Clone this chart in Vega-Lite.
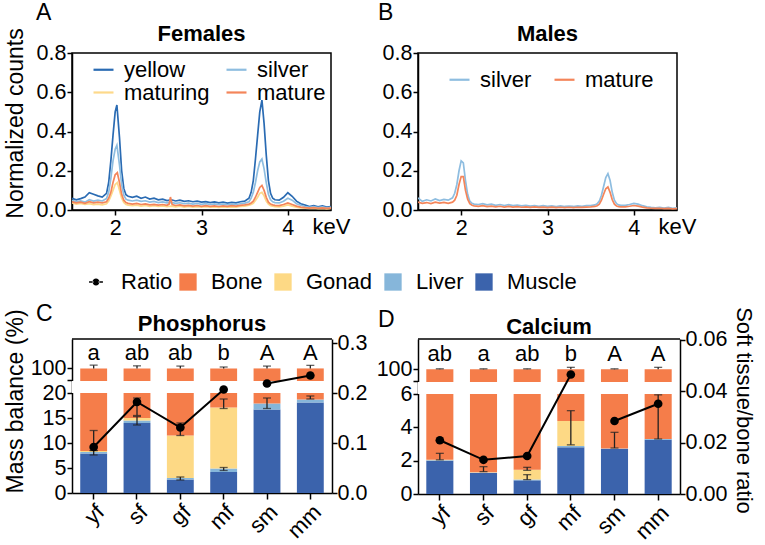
{
  "$schema": "https://vega.github.io/schema/vega-lite/v6.json",
  "background": "white",
  "padding": {"left": 3, "top": 2, "right": 1, "bottom": 3},
  "config": {
    "font": "Liberation Sans",
    "view": {"stroke": null},
    "axis": {"domainColor": "black", "domainWidth": 1.5, "tickColor": "black", "tickWidth": 1.5, "tickSize": 5, "labelColor": "black", "labelFontSize": 21.5, "labelPadding": 1, "titleColor": "black", "titleFontSize": 23, "titleFontWeight": "normal", "grid": false},
    "legend": {"labelFontSize": 22, "labelColor": "black"},
    "title": {"color": "black"}
  },
  "datasets": {
    "specF": [
      {"series":"yellow","keV":1.5,"counts":0.060},{"series":"yellow","keV":1.55,"counts":0.052},{"series":"yellow","keV":1.6,"counts":0.058},{"series":"yellow","keV":1.65,"counts":0.066},{"series":"yellow","keV":1.7,"counts":0.088},{"series":"yellow","keV":1.75,"counts":0.080},{"series":"yellow","keV":1.8,"counts":0.072},{"series":"yellow","keV":1.85,"counts":0.066},{"series":"yellow","keV":1.9,"counts":0.085},
      {"series":"yellow","keV":1.925,"counts":0.14},{"series":"yellow","keV":1.95,"counts":0.25},{"series":"yellow","keV":1.975,"counts":0.38},{"series":"yellow","keV":2.0,"counts":0.50},{"series":"yellow","keV":2.02,"counts":0.535},{"series":"yellow","keV":2.05,"counts":0.37},{"series":"yellow","keV":2.075,"counts":0.20},{"series":"yellow","keV":2.1,"counts":0.11},{"series":"yellow","keV":2.125,"counts":0.078},{"series":"yellow","keV":2.15,"counts":0.070},
      {"series":"yellow","keV":2.2,"counts":0.064},{"series":"yellow","keV":2.25,"counts":0.070},{"series":"yellow","keV":2.3,"counts":0.060},{"series":"yellow","keV":2.35,"counts":0.066},{"series":"yellow","keV":2.4,"counts":0.056},{"series":"yellow","keV":2.45,"counts":0.060},{"series":"yellow","keV":2.5,"counts":0.052},{"series":"yellow","keV":2.55,"counts":0.055},{"series":"yellow","keV":2.6,"counts":0.048},{"series":"yellow","keV":2.65,"counts":0.052},{"series":"yellow","keV":2.7,"counts":0.046},{"series":"yellow","keV":2.75,"counts":0.050},{"series":"yellow","keV":2.8,"counts":0.044},{"series":"yellow","keV":2.85,"counts":0.047},{"series":"yellow","keV":2.9,"counts":0.042},{"series":"yellow","keV":2.95,"counts":0.045},{"series":"yellow","keV":3.0,"counts":0.040},{"series":"yellow","keV":3.05,"counts":0.043},{"series":"yellow","keV":3.1,"counts":0.038},{"series":"yellow","keV":3.15,"counts":0.041},{"series":"yellow","keV":3.2,"counts":0.036},{"series":"yellow","keV":3.25,"counts":0.040},{"series":"yellow","keV":3.3,"counts":0.035},{"series":"yellow","keV":3.35,"counts":0.039},{"series":"yellow","keV":3.4,"counts":0.036},{"series":"yellow","keV":3.45,"counts":0.042},{"series":"yellow","keV":3.5,"counts":0.045},{"series":"yellow","keV":3.55,"counts":0.060},
      {"series":"yellow","keV":3.575,"counts":0.09},{"series":"yellow","keV":3.6,"counts":0.15},{"series":"yellow","keV":3.625,"counts":0.26},{"series":"yellow","keV":3.65,"counts":0.38},{"series":"yellow","keV":3.675,"counts":0.50},{"series":"yellow","keV":3.7,"counts":0.56},{"series":"yellow","keV":3.725,"counts":0.44},{"series":"yellow","keV":3.75,"counts":0.28},{"series":"yellow","keV":3.775,"counts":0.15},{"series":"yellow","keV":3.8,"counts":0.085},{"series":"yellow","keV":3.825,"counts":0.060},{"series":"yellow","keV":3.85,"counts":0.052},
      {"series":"yellow","keV":3.9,"counts":0.050},{"series":"yellow","keV":3.95,"counts":0.065},{"series":"yellow","keV":4.0,"counts":0.088},{"series":"yellow","keV":4.05,"counts":0.070},{"series":"yellow","keV":4.1,"counts":0.045},{"series":"yellow","keV":4.15,"counts":0.032},{"series":"yellow","keV":4.2,"counts":0.025},{"series":"yellow","keV":4.25,"counts":0.018},{"series":"yellow","keV":4.3,"counts":0.022},{"series":"yellow","keV":4.35,"counts":0.016},{"series":"yellow","keV":4.4,"counts":0.021},{"series":"yellow","keV":4.45,"counts":0.015},{"series":"yellow","keV":4.5,"counts":0.018},

      {"series":"silver","keV":1.5,"counts":0.050},{"series":"silver","keV":1.55,"counts":0.042},{"series":"silver","keV":1.6,"counts":0.046},{"series":"silver","keV":1.65,"counts":0.040},{"series":"silver","keV":1.7,"counts":0.052},{"series":"silver","keV":1.75,"counts":0.045},{"series":"silver","keV":1.8,"counts":0.050},{"series":"silver","keV":1.85,"counts":0.046},{"series":"silver","keV":1.9,"counts":0.058},
      {"series":"silver","keV":1.925,"counts":0.09},{"series":"silver","keV":1.95,"counts":0.16},{"series":"silver","keV":1.975,"counts":0.25},{"series":"silver","keV":2.0,"counts":0.31},{"series":"silver","keV":2.02,"counts":0.33},{"series":"silver","keV":2.05,"counts":0.23},{"series":"silver","keV":2.075,"counts":0.13},{"series":"silver","keV":2.1,"counts":0.075},{"series":"silver","keV":2.125,"counts":0.055},{"series":"silver","keV":2.15,"counts":0.050},
      {"series":"silver","keV":2.2,"counts":0.046},{"series":"silver","keV":2.25,"counts":0.050},{"series":"silver","keV":2.3,"counts":0.044},{"series":"silver","keV":2.35,"counts":0.047},{"series":"silver","keV":2.4,"counts":0.040},{"series":"silver","keV":2.45,"counts":0.044},{"series":"silver","keV":2.5,"counts":0.038},{"series":"silver","keV":2.55,"counts":0.041},{"series":"silver","keV":2.6,"counts":0.036},{"series":"silver","keV":2.65,"counts":0.039},{"series":"silver","keV":2.7,"counts":0.034},{"series":"silver","keV":2.75,"counts":0.037},{"series":"silver","keV":2.8,"counts":0.032},{"series":"silver","keV":2.85,"counts":0.035},{"series":"silver","keV":2.9,"counts":0.030},{"series":"silver","keV":2.95,"counts":0.033},{"series":"silver","keV":3.0,"counts":0.029},{"series":"silver","keV":3.05,"counts":0.032},{"series":"silver","keV":3.1,"counts":0.028},{"series":"silver","keV":3.15,"counts":0.031},{"series":"silver","keV":3.2,"counts":0.027},{"series":"silver","keV":3.25,"counts":0.030},{"series":"silver","keV":3.3,"counts":0.027},{"series":"silver","keV":3.35,"counts":0.029},{"series":"silver","keV":3.4,"counts":0.028},{"series":"silver","keV":3.45,"counts":0.032},{"series":"silver","keV":3.5,"counts":0.035},{"series":"silver","keV":3.55,"counts":0.042},
      {"series":"silver","keV":3.575,"counts":0.06},{"series":"silver","keV":3.6,"counts":0.09},{"series":"silver","keV":3.625,"counts":0.14},{"series":"silver","keV":3.65,"counts":0.20},{"series":"silver","keV":3.675,"counts":0.245},{"series":"silver","keV":3.7,"counts":0.26},{"series":"silver","keV":3.725,"counts":0.21},{"series":"silver","keV":3.75,"counts":0.14},{"series":"silver","keV":3.775,"counts":0.08},{"series":"silver","keV":3.8,"counts":0.052},{"series":"silver","keV":3.825,"counts":0.042},{"series":"silver","keV":3.85,"counts":0.038},
      {"series":"silver","keV":3.9,"counts":0.036},{"series":"silver","keV":3.95,"counts":0.045},{"series":"silver","keV":4.0,"counts":0.060},{"series":"silver","keV":4.05,"counts":0.050},{"series":"silver","keV":4.1,"counts":0.032},{"series":"silver","keV":4.15,"counts":0.024},{"series":"silver","keV":4.2,"counts":0.018},{"series":"silver","keV":4.25,"counts":0.014},{"series":"silver","keV":4.3,"counts":0.017},{"series":"silver","keV":4.35,"counts":0.012},{"series":"silver","keV":4.4,"counts":0.016},{"series":"silver","keV":4.45,"counts":0.011},{"series":"silver","keV":4.5,"counts":0.014},

      {"series":"maturing","keV":1.5,"counts":0.036},{"series":"maturing","keV":1.55,"counts":0.030},{"series":"maturing","keV":1.6,"counts":0.033},{"series":"maturing","keV":1.65,"counts":0.028},{"series":"maturing","keV":1.7,"counts":0.032},{"series":"maturing","keV":1.75,"counts":0.027},{"series":"maturing","keV":1.8,"counts":0.030},{"series":"maturing","keV":1.85,"counts":0.026},{"series":"maturing","keV":1.9,"counts":0.032},
      {"series":"maturing","keV":1.925,"counts":0.045},{"series":"maturing","keV":1.95,"counts":0.07},{"series":"maturing","keV":1.975,"counts":0.10},{"series":"maturing","keV":2.0,"counts":0.13},{"series":"maturing","keV":2.025,"counts":0.14},{"series":"maturing","keV":2.05,"counts":0.10},{"series":"maturing","keV":2.075,"counts":0.06},{"series":"maturing","keV":2.1,"counts":0.038},{"series":"maturing","keV":2.125,"counts":0.028},{"series":"maturing","keV":2.15,"counts":0.025},
      {"series":"maturing","keV":2.2,"counts":0.022},{"series":"maturing","keV":2.25,"counts":0.025},{"series":"maturing","keV":2.3,"counts":0.020},{"series":"maturing","keV":2.35,"counts":0.023},{"series":"maturing","keV":2.4,"counts":0.019},{"series":"maturing","keV":2.45,"counts":0.022},{"series":"maturing","keV":2.5,"counts":0.018},{"series":"maturing","keV":2.55,"counts":0.021},{"series":"maturing","keV":2.6,"counts":0.017},{"series":"maturing","keV":2.65,"counts":0.020},{"series":"maturing","keV":2.7,"counts":0.016},{"series":"maturing","keV":2.75,"counts":0.019},{"series":"maturing","keV":2.8,"counts":0.015},{"series":"maturing","keV":2.85,"counts":0.018},{"series":"maturing","keV":2.9,"counts":0.015},{"series":"maturing","keV":2.95,"counts":0.017},{"series":"maturing","keV":3.0,"counts":0.014},{"series":"maturing","keV":3.05,"counts":0.017},{"series":"maturing","keV":3.1,"counts":0.014},{"series":"maturing","keV":3.15,"counts":0.016},{"series":"maturing","keV":3.2,"counts":0.013},{"series":"maturing","keV":3.25,"counts":0.016},{"series":"maturing","keV":3.3,"counts":0.014},{"series":"maturing","keV":3.35,"counts":0.016},{"series":"maturing","keV":3.4,"counts":0.015},{"series":"maturing","keV":3.45,"counts":0.018},{"series":"maturing","keV":3.5,"counts":0.020},{"series":"maturing","keV":3.55,"counts":0.024},
      {"series":"maturing","keV":3.575,"counts":0.028},{"series":"maturing","keV":3.6,"counts":0.034},{"series":"maturing","keV":3.625,"counts":0.048},{"series":"maturing","keV":3.65,"counts":0.065},{"series":"maturing","keV":3.675,"counts":0.085},{"series":"maturing","keV":3.7,"counts":0.09},{"series":"maturing","keV":3.725,"counts":0.072},{"series":"maturing","keV":3.75,"counts":0.045},{"series":"maturing","keV":3.775,"counts":0.03},{"series":"maturing","keV":3.8,"counts":0.022},{"series":"maturing","keV":3.825,"counts":0.019},{"series":"maturing","keV":3.85,"counts":0.017},
      {"series":"maturing","keV":3.9,"counts":0.016},{"series":"maturing","keV":3.95,"counts":0.020},{"series":"maturing","keV":4.0,"counts":0.026},{"series":"maturing","keV":4.05,"counts":0.020},{"series":"maturing","keV":4.1,"counts":0.015},{"series":"maturing","keV":4.15,"counts":0.011},{"series":"maturing","keV":4.2,"counts":0.009},{"series":"maturing","keV":4.25,"counts":0.008},{"series":"maturing","keV":4.3,"counts":0.009},{"series":"maturing","keV":4.35,"counts":0.007},{"series":"maturing","keV":4.4,"counts":0.008},{"series":"maturing","keV":4.45,"counts":0.006},{"series":"maturing","keV":4.5,"counts":0.008},

      {"series":"mature","keV":1.5,"counts":0.042},{"series":"mature","keV":1.55,"counts":0.036},{"series":"mature","keV":1.6,"counts":0.040},{"series":"mature","keV":1.65,"counts":0.034},{"series":"mature","keV":1.7,"counts":0.042},{"series":"mature","keV":1.75,"counts":0.036},{"series":"mature","keV":1.8,"counts":0.040},{"series":"mature","keV":1.85,"counts":0.036},{"series":"mature","keV":1.9,"counts":0.042},
      {"series":"mature","keV":1.925,"counts":0.06},{"series":"mature","keV":1.95,"counts":0.09},{"series":"mature","keV":1.975,"counts":0.14},{"series":"mature","keV":2.0,"counts":0.18},{"series":"mature","keV":2.025,"counts":0.19},{"series":"mature","keV":2.05,"counts":0.14},{"series":"mature","keV":2.075,"counts":0.08},{"series":"mature","keV":2.1,"counts":0.05},{"series":"mature","keV":2.125,"counts":0.038},{"series":"mature","keV":2.15,"counts":0.034},
      {"series":"mature","keV":2.2,"counts":0.030},{"series":"mature","keV":2.25,"counts":0.034},{"series":"mature","keV":2.3,"counts":0.028},{"series":"mature","keV":2.35,"counts":0.031},{"series":"mature","keV":2.4,"counts":0.026},{"series":"mature","keV":2.45,"counts":0.029},{"series":"mature","keV":2.5,"counts":0.025},{"series":"mature","keV":2.55,"counts":0.028},{"series":"mature","keV":2.6,"counts":0.024},{"series":"mature","keV":2.625,"counts":0.030},{"series":"mature","keV":2.64,"counts":0.066},{"series":"mature","keV":2.66,"counts":0.028},{"series":"mature","keV":2.7,"counts":0.023},{"series":"mature","keV":2.75,"counts":0.026},{"series":"mature","keV":2.8,"counts":0.021},{"series":"mature","keV":2.85,"counts":0.024},{"series":"mature","keV":2.9,"counts":0.020},{"series":"mature","keV":2.95,"counts":0.023},{"series":"mature","keV":3.0,"counts":0.019},{"series":"mature","keV":3.05,"counts":0.022},{"series":"mature","keV":3.1,"counts":0.019},{"series":"mature","keV":3.15,"counts":0.021},{"series":"mature","keV":3.2,"counts":0.018},{"series":"mature","keV":3.25,"counts":0.021},{"series":"mature","keV":3.3,"counts":0.019},{"series":"mature","keV":3.35,"counts":0.022},{"series":"mature","keV":3.4,"counts":0.020},{"series":"mature","keV":3.45,"counts":0.024},{"series":"mature","keV":3.5,"counts":0.026},{"series":"mature","keV":3.55,"counts":0.030},
      {"series":"mature","keV":3.575,"counts":0.036},{"series":"mature","keV":3.6,"counts":0.045},{"series":"mature","keV":3.625,"counts":0.065},{"series":"mature","keV":3.65,"counts":0.09},{"series":"mature","keV":3.675,"counts":0.115},{"series":"mature","keV":3.7,"counts":0.125},{"series":"mature","keV":3.725,"counts":0.10},{"series":"mature","keV":3.75,"counts":0.065},{"series":"mature","keV":3.775,"counts":0.04},{"series":"mature","keV":3.8,"counts":0.03},{"series":"mature","keV":3.825,"counts":0.026},{"series":"mature","keV":3.85,"counts":0.024},
      {"series":"mature","keV":3.9,"counts":0.022},{"series":"mature","keV":3.95,"counts":0.028},{"series":"mature","keV":4.0,"counts":0.036},{"series":"mature","keV":4.05,"counts":0.028},{"series":"mature","keV":4.1,"counts":0.020},{"series":"mature","keV":4.15,"counts":0.015},{"series":"mature","keV":4.2,"counts":0.012},{"series":"mature","keV":4.25,"counts":0.010},{"series":"mature","keV":4.3,"counts":0.012},{"series":"mature","keV":4.35,"counts":0.009},{"series":"mature","keV":4.4,"counts":0.011},{"series":"mature","keV":4.45,"counts":0.008},{"series":"mature","keV":4.5,"counts":0.010}
    ],
    "specM": [
      {"series":"silver","keV":1.5,"counts":0.062},{"series":"silver","keV":1.55,"counts":0.044},{"series":"silver","keV":1.6,"counts":0.052},{"series":"silver","keV":1.65,"counts":0.046},{"series":"silver","keV":1.7,"counts":0.056},{"series":"silver","keV":1.75,"counts":0.048},{"series":"silver","keV":1.8,"counts":0.054},{"series":"silver","keV":1.85,"counts":0.050},{"series":"silver","keV":1.9,"counts":0.062},
      {"series":"silver","keV":1.925,"counts":0.085},{"series":"silver","keV":1.95,"counts":0.13},{"series":"silver","keV":1.975,"counts":0.20},{"series":"silver","keV":2.0,"counts":0.25},{"series":"silver","keV":2.025,"counts":0.24},{"series":"silver","keV":2.05,"counts":0.15},{"series":"silver","keV":2.075,"counts":0.08},{"series":"silver","keV":2.1,"counts":0.045},{"series":"silver","keV":2.125,"counts":0.034},{"series":"silver","keV":2.15,"counts":0.030},
      {"series":"silver","keV":2.2,"counts":0.028},{"series":"silver","keV":2.25,"counts":0.032},{"series":"silver","keV":2.3,"counts":0.026},{"series":"silver","keV":2.35,"counts":0.030},{"series":"silver","keV":2.4,"counts":0.024},{"series":"silver","keV":2.45,"counts":0.028},{"series":"silver","keV":2.5,"counts":0.023},{"series":"silver","keV":2.55,"counts":0.027},{"series":"silver","keV":2.6,"counts":0.022},{"series":"silver","keV":2.65,"counts":0.025},{"series":"silver","keV":2.7,"counts":0.021},{"series":"silver","keV":2.75,"counts":0.024},{"series":"silver","keV":2.8,"counts":0.020},{"series":"silver","keV":2.85,"counts":0.023},{"series":"silver","keV":2.9,"counts":0.019},{"series":"silver","keV":2.95,"counts":0.022},{"series":"silver","keV":3.0,"counts":0.019},{"series":"silver","keV":3.05,"counts":0.021},{"series":"silver","keV":3.1,"counts":0.018},{"series":"silver","keV":3.15,"counts":0.021},{"series":"silver","keV":3.2,"counts":0.018},{"series":"silver","keV":3.25,"counts":0.020},{"series":"silver","keV":3.3,"counts":0.018},{"series":"silver","keV":3.35,"counts":0.021},{"series":"silver","keV":3.4,"counts":0.019},{"series":"silver","keV":3.45,"counts":0.022},{"series":"silver","keV":3.5,"counts":0.023},{"series":"silver","keV":3.55,"counts":0.026},
      {"series":"silver","keV":3.575,"counts":0.032},{"series":"silver","keV":3.6,"counts":0.045},{"series":"silver","keV":3.625,"counts":0.075},{"series":"silver","keV":3.65,"counts":0.12},{"series":"silver","keV":3.675,"counts":0.165},{"series":"silver","keV":3.7,"counts":0.185},{"series":"silver","keV":3.725,"counts":0.15},{"series":"silver","keV":3.75,"counts":0.09},{"series":"silver","keV":3.775,"counts":0.05},{"series":"silver","keV":3.8,"counts":0.032},{"series":"silver","keV":3.825,"counts":0.026},{"series":"silver","keV":3.85,"counts":0.024},
      {"series":"silver","keV":3.9,"counts":0.024},{"series":"silver","keV":3.95,"counts":0.028},{"series":"silver","keV":4.0,"counts":0.034},{"series":"silver","keV":4.05,"counts":0.030},{"series":"silver","keV":4.1,"counts":0.022},{"series":"silver","keV":4.15,"counts":0.016},{"series":"silver","keV":4.2,"counts":0.013},{"series":"silver","keV":4.25,"counts":0.011},{"series":"silver","keV":4.3,"counts":0.014},{"series":"silver","keV":4.35,"counts":0.010},{"series":"silver","keV":4.4,"counts":0.013},{"series":"silver","keV":4.45,"counts":0.009},{"series":"silver","keV":4.5,"counts":0.011},

      {"series":"mature","keV":1.5,"counts":0.040},{"series":"mature","keV":1.55,"counts":0.034},{"series":"mature","keV":1.6,"counts":0.038},{"series":"mature","keV":1.65,"counts":0.033},{"series":"mature","keV":1.7,"counts":0.040},{"series":"mature","keV":1.75,"counts":0.035},{"series":"mature","keV":1.8,"counts":0.039},{"series":"mature","keV":1.85,"counts":0.034},{"series":"mature","keV":1.9,"counts":0.040},
      {"series":"mature","keV":1.925,"counts":0.05},{"series":"mature","keV":1.95,"counts":0.075},{"series":"mature","keV":1.975,"counts":0.13},{"series":"mature","keV":2.0,"counts":0.17},{"series":"mature","keV":2.025,"counts":0.17},{"series":"mature","keV":2.05,"counts":0.10},{"series":"mature","keV":2.075,"counts":0.055},{"series":"mature","keV":2.1,"counts":0.032},{"series":"mature","keV":2.125,"counts":0.024},{"series":"mature","keV":2.15,"counts":0.021},
      {"series":"mature","keV":2.2,"counts":0.019},{"series":"mature","keV":2.25,"counts":0.022},{"series":"mature","keV":2.3,"counts":0.017},{"series":"mature","keV":2.35,"counts":0.020},{"series":"mature","keV":2.4,"counts":0.016},{"series":"mature","keV":2.45,"counts":0.019},{"series":"mature","keV":2.5,"counts":0.015},{"series":"mature","keV":2.55,"counts":0.018},{"series":"mature","keV":2.6,"counts":0.015},{"series":"mature","keV":2.65,"counts":0.017},{"series":"mature","keV":2.7,"counts":0.014},{"series":"mature","keV":2.75,"counts":0.016},{"series":"mature","keV":2.8,"counts":0.013},{"series":"mature","keV":2.85,"counts":0.016},{"series":"mature","keV":2.9,"counts":0.013},{"series":"mature","keV":2.95,"counts":0.015},{"series":"mature","keV":3.0,"counts":0.012},{"series":"mature","keV":3.05,"counts":0.015},{"series":"mature","keV":3.1,"counts":0.012},{"series":"mature","keV":3.15,"counts":0.014},{"series":"mature","keV":3.2,"counts":0.012},{"series":"mature","keV":3.25,"counts":0.014},{"series":"mature","keV":3.3,"counts":0.012},{"series":"mature","keV":3.35,"counts":0.014},{"series":"mature","keV":3.4,"counts":0.013},{"series":"mature","keV":3.45,"counts":0.015},{"series":"mature","keV":3.5,"counts":0.016},{"series":"mature","keV":3.55,"counts":0.018},
      {"series":"mature","keV":3.575,"counts":0.022},{"series":"mature","keV":3.6,"counts":0.03},{"series":"mature","keV":3.625,"counts":0.05},{"series":"mature","keV":3.65,"counts":0.08},{"series":"mature","keV":3.675,"counts":0.108},{"series":"mature","keV":3.7,"counts":0.118},{"series":"mature","keV":3.725,"counts":0.09},{"series":"mature","keV":3.75,"counts":0.052},{"series":"mature","keV":3.775,"counts":0.03},{"series":"mature","keV":3.8,"counts":0.02},{"series":"mature","keV":3.825,"counts":0.017},{"series":"mature","keV":3.85,"counts":0.016},
      {"series":"mature","keV":3.9,"counts":0.016},{"series":"mature","keV":3.95,"counts":0.019},{"series":"mature","keV":4.0,"counts":0.023},{"series":"mature","keV":4.05,"counts":0.020},{"series":"mature","keV":4.1,"counts":0.015},{"series":"mature","keV":4.15,"counts":0.011},{"series":"mature","keV":4.2,"counts":0.009},{"series":"mature","keV":4.25,"counts":0.008},{"series":"mature","keV":4.3,"counts":0.009},{"series":"mature","keV":4.35,"counts":0.007},{"series":"mature","keV":4.4,"counts":0.008},{"series":"mature","keV":4.45,"counts":0.006},{"series":"mature","keV":4.5,"counts":0.007}
    ],
    "bars": [
      {"element":"Phosphorus","group":"yf","tissue":"Muscle","value":7.9},{"element":"Phosphorus","group":"yf","tissue":"Liver","value":0.3},{"element":"Phosphorus","group":"yf","tissue":"Gonad","value":0.2},{"element":"Phosphorus","group":"yf","tissue":"Bone","value":91.6},
      {"element":"Phosphorus","group":"sf","tissue":"Muscle","value":14.0},{"element":"Phosphorus","group":"sf","tissue":"Liver","value":0.5},{"element":"Phosphorus","group":"sf","tissue":"Gonad","value":0.5},{"element":"Phosphorus","group":"sf","tissue":"Bone","value":85.0},
      {"element":"Phosphorus","group":"gf","tissue":"Muscle","value":2.7},{"element":"Phosphorus","group":"gf","tissue":"Liver","value":0.3},{"element":"Phosphorus","group":"gf","tissue":"Gonad","value":8.5},{"element":"Phosphorus","group":"gf","tissue":"Bone","value":88.5},
      {"element":"Phosphorus","group":"mf","tissue":"Muscle","value":4.2},{"element":"Phosphorus","group":"mf","tissue":"Liver","value":0.7},{"element":"Phosphorus","group":"mf","tissue":"Gonad","value":12.2},{"element":"Phosphorus","group":"mf","tissue":"Bone","value":82.9},
      {"element":"Phosphorus","group":"sm","tissue":"Muscle","value":16.7},{"element":"Phosphorus","group":"sm","tissue":"Liver","value":1.2},{"element":"Phosphorus","group":"sm","tissue":"Bone","value":82.1},
      {"element":"Phosphorus","group":"mm","tissue":"Muscle","value":18.1},{"element":"Phosphorus","group":"mm","tissue":"Liver","value":0.6},{"element":"Phosphorus","group":"mm","tissue":"Bone","value":81.3},
      {"element":"Calcium","group":"yf","tissue":"Muscle","value":2.0},{"element":"Calcium","group":"yf","tissue":"Liver","value":0.03},{"element":"Calcium","group":"yf","tissue":"Gonad","value":0.02},{"element":"Calcium","group":"yf","tissue":"Bone","value":97.95},
      {"element":"Calcium","group":"sf","tissue":"Muscle","value":1.26},{"element":"Calcium","group":"sf","tissue":"Liver","value":0.02},{"element":"Calcium","group":"sf","tissue":"Gonad","value":0.02},{"element":"Calcium","group":"sf","tissue":"Bone","value":98.7},
      {"element":"Calcium","group":"gf","tissue":"Muscle","value":0.82},{"element":"Calcium","group":"gf","tissue":"Liver","value":0.05},{"element":"Calcium","group":"gf","tissue":"Gonad","value":0.59},{"element":"Calcium","group":"gf","tissue":"Bone","value":98.54},
      {"element":"Calcium","group":"mf","tissue":"Muscle","value":2.8},{"element":"Calcium","group":"mf","tissue":"Liver","value":0.08},{"element":"Calcium","group":"mf","tissue":"Gonad","value":1.5},{"element":"Calcium","group":"mf","tissue":"Bone","value":95.62},
      {"element":"Calcium","group":"sm","tissue":"Muscle","value":2.7},{"element":"Calcium","group":"sm","tissue":"Liver","value":0.03},{"element":"Calcium","group":"sm","tissue":"Bone","value":97.27},
      {"element":"Calcium","group":"mm","tissue":"Muscle","value":3.25},{"element":"Calcium","group":"mm","tissue":"Liver","value":0.05},{"element":"Calcium","group":"mm","tissue":"Bone","value":96.7}
    ],
    "errs": [
      {"element":"Phosphorus","group":"yf","lo":7.6,"hi":8.5},{"element":"Phosphorus","group":"sf","lo":13.6,"hi":15.3},{"element":"Phosphorus","group":"gf","lo":2.6,"hi":3.2},{"element":"Phosphorus","group":"mf","lo":16.9,"hi":18.8},{"element":"Phosphorus","group":"mf","lo":4.5,"hi":5.1},{"element":"Phosphorus","group":"sm","lo":16.9,"hi":19.0},{"element":"Phosphorus","group":"mm","lo":18.8,"hi":19.4},
      {"element":"Calcium","group":"yf","lo":2.05,"hi":2.44},{"element":"Calcium","group":"sf","lo":1.34,"hi":1.64},{"element":"Calcium","group":"gf","lo":0.86,"hi":1.16},{"element":"Calcium","group":"gf","lo":1.42,"hi":1.6},{"element":"Calcium","group":"mf","lo":2.95,"hi":5.0},{"element":"Calcium","group":"sm","lo":2.76,"hi":3.7},{"element":"Calcium","group":"mm","lo":3.3,"hi":5.95}
    ],
    "boneErr": [
      {"element":"Phosphorus","group":"yf","mean":100,"hi":102.8},{"element":"Phosphorus","group":"sf","mean":100,"hi":102.2},{"element":"Phosphorus","group":"gf","mean":100,"hi":102},{"element":"Phosphorus","group":"mf","mean":100,"hi":101.2},{"element":"Phosphorus","group":"sm","mean":100,"hi":102},{"element":"Phosphorus","group":"mm","mean":100,"hi":102.6},
      {"element":"Calcium","group":"yf","mean":100,"hi":100.4},{"element":"Calcium","group":"sf","mean":100,"hi":100.4},{"element":"Calcium","group":"gf","mean":100,"hi":100.4},{"element":"Calcium","group":"mf","mean":100,"hi":101.6},{"element":"Calcium","group":"sm","mean":100,"hi":100.4},{"element":"Calcium","group":"mm","mean":100,"hi":101.6}
    ],
    "ratio": [
      {"element":"Phosphorus","group":"yf","sex":"F","ratio":0.092},{"element":"Phosphorus","group":"sf","sex":"F","ratio":0.182},{"element":"Phosphorus","group":"gf","sex":"F","ratio":0.131},{"element":"Phosphorus","group":"mf","sex":"F","ratio":0.207},{"element":"Phosphorus","group":"sm","sex":"M","ratio":0.219},{"element":"Phosphorus","group":"mm","sex":"M","ratio":0.235},
      {"element":"Calcium","group":"yf","sex":"F","ratio":0.0209},{"element":"Calcium","group":"sf","sex":"F","ratio":0.0133},{"element":"Calcium","group":"gf","sex":"F","ratio":0.0148},{"element":"Calcium","group":"mf","sex":"F","ratio":0.0465},{"element":"Calcium","group":"sm","sex":"M","ratio":0.0284},{"element":"Calcium","group":"mm","sex":"M","ratio":0.0351}
    ],
    "ratioErr": [
      {"element":"Phosphorus","group":"yf","lo":0.085,"hi":0.125},{"element":"Phosphorus","group":"sf","lo":0.155,"hi":0.19},{"element":"Phosphorus","group":"gf","lo":0.115,"hi":0.14}
    ],
    "letters": [
      {"element":"Phosphorus","group":"yf","letter":"a"},{"element":"Phosphorus","group":"sf","letter":"ab"},{"element":"Phosphorus","group":"gf","letter":"ab"},{"element":"Phosphorus","group":"mf","letter":"b"},{"element":"Phosphorus","group":"sm","letter":"A"},{"element":"Phosphorus","group":"mm","letter":"A"},
      {"element":"Calcium","group":"yf","letter":"ab"},{"element":"Calcium","group":"sf","letter":"a"},{"element":"Calcium","group":"gf","letter":"ab"},{"element":"Calcium","group":"mf","letter":"b"},{"element":"Calcium","group":"sm","letter":"A"},{"element":"Calcium","group":"mm","letter":"A"}
    ]
  },
  "resolve": {"scale": {"fill": "shared", "shape": "shared"}, "legend": {"fill": "shared", "shape": "shared"}},
  "spacing": 62,
  "vconcat": [
    {
      "spacing": 27,
      "resolve": {"scale": {"stroke": "independent"}, "legend": {"stroke": "independent"}},
      "hconcat": [
        {
          "title": {"text": "A", "anchor": "start", "frame": "group", "fontSize": 23, "fontWeight": "normal", "dx": -36, "offset": -3},
          "resolve": {"scale": {"stroke": "independent"}, "legend": {"stroke": "independent"}},
          "vconcat": [{
            "title": {"text": "Females", "fontWeight": "bold", "fontSize": 22, "anchor": "middle", "frame": "group", "offset": -18},
            "width": 259, "height": 157,
            "view": {"stroke": "black", "strokeWidth": 1.5},
            "data": {"name": "specF"},
            "mark": {"type": "line", "strokeWidth": 1.7, "clip": true},
            "encoding": {
              "x": {"field": "keV", "type": "quantitative", "scale": {"domain": [1.5, 4.5], "nice": false, "zero": false},
                    "axis": {"values": [2, 3, 4], "format": "d", "labelPadding": 2, "title": "keV", "titleX": 259, "titleY": 23, "titleAlign": "center", "titleBaseline": "alphabetic", "titleFontSize": 22}},
              "y": {"field": "counts", "type": "quantitative", "scale": {"domain": [0, 0.8], "nice": false},
                    "axis": {"values": [0, 0.2, 0.4, 0.6, 0.8], "format": ".1f", "title": "Normalized counts", "titleX": -45, "titleY": 70, "titleBaseline": "bottom", "titleAlign": "center", "titleAngle": -90}},
              "stroke": {"field": "series", "type": "nominal",
                         "scale": {"domain": ["yellow", "silver", "maturing", "mature"], "range": ["#2a6bb3", "#8ebde0", "#fdd98a", "#f4855a"]},
                         "legend": {"orient": "none", "legendX": 20, "legendY": 5, "columns": 2, "direction": "horizontal", "title": null, "symbolType": "stroke", "symbolStrokeWidth": 2.2, "symbolSize": 400, "labelOffset": 9, "columnPadding": 12, "rowPadding": 0, "labelFontSize": 22, "padding": 0}}
            }
          }]
        },
        {
          "title": {"text": "B", "anchor": "start", "frame": "group", "fontSize": 23, "fontWeight": "normal", "dx": -40, "offset": -3},
          "resolve": {"scale": {"stroke": "independent"}, "legend": {"stroke": "independent"}},
          "vconcat": [{
            "title": {"text": "Males", "fontWeight": "bold", "fontSize": 22, "anchor": "middle", "frame": "group", "offset": -4},
            "width": 259, "height": 157,
            "view": {"stroke": "black", "strokeWidth": 1.5},
            "data": {"name": "specM"},
            "mark": {"type": "line", "strokeWidth": 1.7, "clip": true},
            "encoding": {
              "x": {"field": "keV", "type": "quantitative", "scale": {"domain": [1.5, 4.5], "nice": false, "zero": false},
                    "axis": {"values": [2, 3, 4], "format": "d", "labelPadding": 2, "title": "keV", "titleX": 259, "titleY": 23, "titleAlign": "center", "titleBaseline": "alphabetic", "titleFontSize": 22}},
              "y": {"field": "counts", "type": "quantitative", "scale": {"domain": [0, 0.8], "nice": false},
                    "axis": {"values": [0, 0.2, 0.4, 0.6, 0.8], "format": ".1f", "title": null}},
              "stroke": {"field": "series", "type": "nominal",
                         "scale": {"domain": ["silver", "mature"], "range": ["#8ebde0", "#f4855a"]},
                         "legend": {"orient": "none", "legendX": 30, "legendY": 15, "columns": 2, "direction": "horizontal", "title": null, "symbolType": "stroke", "symbolStrokeWidth": 2.2, "symbolSize": 400, "labelOffset": 9, "columnPadding": 18, "labelFontSize": 22, "padding": 0}}
            }
          }]
        }
      ]
    },
    {
      "spacing": 9,
      "resolve": {"scale": {"fill": "shared", "shape": "shared"}, "legend": {"fill": "shared", "shape": "shared"}},
      "hconcat": [
        {
          "title": {"text": "C", "anchor": "start", "frame": "group", "fontSize": 23, "fontWeight": "normal", "dx": -36, "offset": -17},
          "resolve": {"scale": {"fill": "shared", "shape": "shared"}, "legend": {"fill": "shared", "shape": "shared"}},
          "vconcat": [{
            "title": {"text": "Phosphorus", "fontWeight": "bold", "fontSize": 22, "anchor": "middle", "frame": "group", "offset": -27},
            "width": 260, "height": 154,
            "resolve": {"scale": {"y": "independent"}, "axis": {"y": "independent"}},
            "layer": [
              {
                "layer": [
                  {
                    "data": {"name": "bars"},
                    "transform": [{"filter": "datum.element === 'Phosphorus'"}],
                    "mark": {"type": "bar", "opacity": 1},
                    "encoding": {
                      "x": {"field": "group", "type": "nominal", "scale": {"domain": ["yf","sf","gf","mf","sm","mm"], "paddingInner": 0.38, "paddingOuter": 0.19},
                            "axis": {"title": null, "labelAngle": -45, "labelFontSize": 22, "labelPadding": 2, "tickSize": 6}},
                      "y": {"field": "value", "type": "quantitative", "stack": "zero",
                            "scale": {"domain": [0, 20, 90, 125], "range": [154, 54, 41.2, 0], "nice": false, "zero": false},
                            "axis": {"values": [0, 5, 10, 15, 20, 90, 100], "labelExpr": "datum.value == 90 ? '' : datum.label", "format": "d", "title": "Mass balance (%)", "titleX": -45, "titleY": 62, "titleBaseline": "bottom", "titleAlign": "center", "titleAngle": -90, "zindex": 0}},
                      "fill": {"field": "tissue", "type": "nominal",
                               "scale": {"domain": ["Bone", "Gonad", "Liver", "Muscle"], "range": ["#f57d4a", "#fdd985", "#86b6da", "#3b63ac"]},
                               "legend": {"orient": "none", "legendX": 105, "legendY": 218, "direction": "horizontal", "columns": 4, "title": null, "symbolType": "square", "symbolSize": 300, "symbolStrokeWidth": 0, "labelFontSize": 22, "labelOffset": 12, "columnPadding": 9, "padding": 0}},
                      "order": {"field": "tissue", "sort": "descending"}
                    }
                  },
                  {
                    "data": {"name": "errs"},
                    "transform": [{"filter": "datum.element === 'Phosphorus'"}],
                    "mark": {"type": "errorbar", "ticks": {"size": 8}, "thickness": 1.3, "color": "#222222"},
                    "encoding": {
                      "x": {"field": "group", "type": "nominal", "scale": {"domain": ["yf","sf","gf","mf","sm","mm"], "paddingInner": 0.38, "paddingOuter": 0.19},
                            "axis": {"title": null, "labelAngle": -45, "labelFontSize": 22, "labelPadding": 2, "tickSize": 6}},
                      "y": {"field": "lo", "type": "quantitative", "scale": {"domain": [0, 20, 90, 125], "range": [154, 54, 41.2, 0], "nice": false, "zero": false},
                            "axis": {"values": [0, 5, 10, 15, 20, 90, 100], "labelExpr": "datum.value == 90 ? '' : datum.label", "format": "d", "title": "Mass balance (%)", "titleX": -45, "titleY": 62, "titleBaseline": "bottom", "titleAlign": "center", "titleAngle": -90, "zindex": 0}},
                      "y2": {"field": "hi"}
                    }
                  },
                  {
                    "data": {"name": "boneErr"},
                    "transform": [{"filter": "datum.element === 'Phosphorus'"}],
                    "mark": {"type": "rule", "strokeWidth": 1.3, "color": "#222222"},
                    "encoding": {
                      "x": {"field": "group", "type": "nominal", "scale": {"domain": ["yf","sf","gf","mf","sm","mm"], "paddingInner": 0.38, "paddingOuter": 0.19},
                            "axis": {"title": null, "labelAngle": -45, "labelFontSize": 22, "labelPadding": 2, "tickSize": 6}},
                      "y": {"field": "mean", "type": "quantitative", "scale": {"domain": [0, 20, 90, 125], "range": [154, 54, 41.2, 0], "nice": false, "zero": false},
                            "axis": {"values": [0, 5, 10, 15, 20, 90, 100], "labelExpr": "datum.value == 90 ? '' : datum.label", "format": "d", "title": "Mass balance (%)", "titleX": -45, "titleY": 62, "titleBaseline": "bottom", "titleAlign": "center", "titleAngle": -90, "zindex": 0}},
                      "y2": {"field": "hi"}
                    }
                  },
                  {
                    "data": {"name": "boneErr"},
                    "transform": [{"filter": "datum.element === 'Phosphorus'"}],
                    "mark": {"type": "tick", "size": 8, "thickness": 1.3, "color": "#222222", "orient": "horizontal"},
                    "encoding": {
                      "x": {"field": "group", "type": "nominal", "scale": {"domain": ["yf","sf","gf","mf","sm","mm"], "paddingInner": 0.38, "paddingOuter": 0.19},
                            "axis": {"title": null, "labelAngle": -45, "labelFontSize": 22, "labelPadding": 2, "tickSize": 6}},
                      "y": {"field": "hi", "type": "quantitative", "scale": {"domain": [0, 20, 90, 125], "range": [154, 54, 41.2, 0], "nice": false, "zero": false},
                            "axis": {"values": [0, 5, 10, 15, 20, 90, 100], "labelExpr": "datum.value == 90 ? '' : datum.label", "format": "d", "title": "Mass balance (%)", "titleX": -45, "titleY": 62, "titleBaseline": "bottom", "titleAlign": "center", "titleAngle": -90, "zindex": 0}}
                    }
                  },
                  {
                    "data": {"values": [{}]},
                    "mark": {"type": "rect", "color": "white", "xOffset": -4},
                    "encoding": {
                      "y": {"datum": 20.25, "type": "quantitative", "scale": {"domain": [0, 20, 90, 125], "range": [154, 54, 41.2, 0], "nice": false, "zero": false},
                            "axis": {"values": [0, 5, 10, 15, 20, 90, 100], "labelExpr": "datum.value == 90 ? '' : datum.label", "format": "d", "title": "Mass balance (%)", "titleX": -45, "titleY": 62, "titleBaseline": "bottom", "titleAlign": "center", "titleAngle": -90, "zindex": 0}},
                      "y2": {"datum": 86}
                    }
                  },
                  {
                    "data": {"values": [{}]},
                    "mark": {"type": "rule", "strokeWidth": 1.5, "color": "black"},
                    "encoding": {
                      "y": {"datum": 125, "type": "quantitative", "scale": {"domain": [0, 20, 90, 125], "range": [154, 54, 41.2, 0], "nice": false, "zero": false},
                            "axis": {"values": [0, 5, 10, 15, 20, 90, 100], "labelExpr": "datum.value == 90 ? '' : datum.label", "format": "d", "title": "Mass balance (%)", "titleX": -45, "titleY": 62, "titleBaseline": "bottom", "titleAlign": "center", "titleAngle": -90, "zindex": 0}}
                    }
                  },
                  {
                    "data": {"name": "letters"},
                    "transform": [{"filter": "datum.element === 'Phosphorus'"}],
                    "mark": {"type": "text", "fontSize": 22, "baseline": "alphabetic", "color": "black"},
                    "encoding": {
                      "x": {"field": "group", "type": "nominal", "scale": {"domain": ["yf","sf","gf","mf","sm","mm"], "paddingInner": 0.38, "paddingOuter": 0.19},
                            "axis": {"title": null, "labelAngle": -45, "labelFontSize": 22, "labelPadding": 2, "tickSize": 6}},
                      "y": {"datum": 107.5, "type": "quantitative", "scale": {"domain": [0, 20, 90, 125], "range": [154, 54, 41.2, 0], "nice": false, "zero": false},
                            "axis": {"values": [0, 5, 10, 15, 20, 90, 100], "labelExpr": "datum.value == 90 ? '' : datum.label", "format": "d", "title": "Mass balance (%)", "titleX": -45, "titleY": 62, "titleBaseline": "bottom", "titleAlign": "center", "titleAngle": -90, "zindex": 0}},
                      "text": {"field": "letter"}
                    }
                  }
                ]
              },
              {
                "layer": [
                  {
                    "data": {"name": "ratio"},
                    "transform": [{"filter": "datum.element === 'Phosphorus'"}],
                    "mark": {"type": "line", "color": "black", "strokeWidth": 2},
                    "encoding": {
                      "x": {"field": "group", "type": "nominal", "scale": {"domain": ["yf","sf","gf","mf","sm","mm"], "paddingInner": 0.38, "paddingOuter": 0.19},
                            "axis": {"title": null, "labelAngle": -45, "labelFontSize": 22, "labelPadding": 2, "tickSize": 6}},
                      "y": {"field": "ratio", "type": "quantitative", "scale": {"domain": [0, 0.308], "nice": false, "zero": false},
                            "axis": {"orient": "right", "values": [0, 0.1, 0.2, 0.3], "format": ".1f", "title": null, "zindex": 1, "labelPadding": 0}},
                      "detail": {"field": "sex"}
                    }
                  },
                  {
                    "data": {"name": "ratioErr"},
                    "transform": [{"filter": "datum.element === 'Phosphorus'"}],
                    "mark": {"type": "errorbar", "ticks": {"size": 8}, "thickness": 1.3, "color": "#222222"},
                    "encoding": {
                      "x": {"field": "group", "type": "nominal", "scale": {"domain": ["yf","sf","gf","mf","sm","mm"], "paddingInner": 0.38, "paddingOuter": 0.19},
                            "axis": {"title": null, "labelAngle": -45, "labelFontSize": 22, "labelPadding": 2, "tickSize": 6}},
                      "y": {"field": "lo", "type": "quantitative", "scale": {"domain": [0, 0.308], "nice": false, "zero": false},
                            "axis": {"orient": "right", "values": [0, 0.1, 0.2, 0.3], "format": ".1f", "title": null, "zindex": 1, "labelPadding": 0}},
                      "y2": {"field": "hi"}
                    }
                  },
                  {
                    "data": {"name": "ratio"},
                    "transform": [{"filter": "datum.element === 'Phosphorus'"}],
                    "mark": {"type": "point", "filled": true, "color": "black", "size": 75, "opacity": 1},
                    "encoding": {
                      "x": {"field": "group", "type": "nominal", "scale": {"domain": ["yf","sf","gf","mf","sm","mm"], "paddingInner": 0.38, "paddingOuter": 0.19},
                            "axis": {"title": null, "labelAngle": -45, "labelFontSize": 22, "labelPadding": 2, "tickSize": 6}},
                      "y": {"field": "ratio", "type": "quantitative", "scale": {"domain": [0, 0.308], "nice": false, "zero": false},
                            "axis": {"orient": "right", "values": [0, 0.1, 0.2, 0.3], "format": ".1f", "title": null, "zindex": 1, "labelPadding": 0}}
                    }
                  },
                  {
                    "data": {"name": "ratio"},
                    "transform": [{"filter": "datum.element === 'Phosphorus'"}],
                    "mark": {"type": "point", "filled": true, "color": "black", "size": 75, "opacity": 0},
                    "encoding": {
                      "x": {"field": "group", "type": "nominal", "scale": {"domain": ["yf","sf","gf","mf","sm","mm"], "paddingInner": 0.38, "paddingOuter": 0.19},
                            "axis": {"title": null, "labelAngle": -45, "labelFontSize": 22, "labelPadding": 2, "tickSize": 6}},
                      "y": {"field": "ratio", "type": "quantitative", "scale": {"domain": [0, 0.308], "nice": false, "zero": false},
                            "axis": {"orient": "right", "values": [0, 0.1, 0.2, 0.3], "format": ".1f", "title": null, "zindex": 1, "labelPadding": 0}},
                      "shape": {"datum": "Ratio", "type": "nominal",
                                "scale": {"domain": ["Ratio"], "range": ["M-0.8,-0.09H-0.3V0.09H-0.8Z M0.3,-0.09H0.8V0.09H0.3Z M-0.4,0A0.4,0.4 0 1,0 0.4,0A0.4,0.4 0 1,0 -0.4,0Z"]},
                                "legend": {"orient": "none", "legendX": 13, "legendY": 218, "title": null, "symbolSize": 300, "symbolOpacity": 1, "symbolFillColor": "black", "symbolStrokeWidth": 0, "labelFontSize": 22, "labelOffset": 14, "padding": 0}}
                    }
                  }
                ]
              }
            ]
          }]
        },
        {
          "title": {"text": "D", "anchor": "start", "frame": "group", "fontSize": 23, "fontWeight": "normal", "dx": -40, "offset": -25},
          "resolve": {"scale": {"fill": "shared", "shape": "shared"}, "legend": {"fill": "shared", "shape": "shared"}},
          "vconcat": [{
            "title": {"text": "Calcium", "fontWeight": "bold", "fontSize": 22, "anchor": "middle", "frame": "group", "offset": -32},
            "width": 262, "height": 155,
            "resolve": {"scale": {"y": "independent"}, "axis": {"y": "independent"}},
            "layer": [
              {
                "layer": [
                  {
                    "data": {"name": "bars"},
                    "transform": [{"filter": "datum.element === 'Calcium'"}],
                    "mark": {"type": "bar", "opacity": 1},
                    "encoding": {
                      "x": {"field": "group", "type": "nominal", "scale": {"domain": ["yf","sf","gf","mf","sm","mm"], "paddingInner": 0.38, "paddingOuter": 0.19},
                            "axis": {"title": null, "labelAngle": -45, "labelFontSize": 22, "labelPadding": 2, "tickSize": 6}},
                      "y": {"field": "value", "type": "quantitative", "stack": "zero",
                            "scale": {"domain": [0, 6, 90, 125], "range": [155, 55, 42.4, 0], "nice": false, "zero": false},
                            "axis": {"values": [0, 2, 4, 6, 90, 100], "labelExpr": "datum.value == 90 ? '' : datum.label", "format": "d", "title": null, "zindex": 0}},
                      "fill": {"field": "tissue", "type": "nominal",
                               "scale": {"domain": ["Bone", "Gonad", "Liver", "Muscle"], "range": ["#f57d4a", "#fdd985", "#86b6da", "#3b63ac"]},
                               "legend": {"orient": "none", "legendX": 105, "legendY": 218, "direction": "horizontal", "columns": 4, "title": null, "symbolType": "square", "symbolSize": 300, "symbolStrokeWidth": 0, "labelFontSize": 22, "labelOffset": 12, "columnPadding": 9, "padding": 0}},
                      "order": {"field": "tissue", "sort": "descending"}
                    }
                  },
                  {
                    "data": {"name": "errs"},
                    "transform": [{"filter": "datum.element === 'Calcium'"}],
                    "mark": {"type": "errorbar", "ticks": {"size": 8}, "thickness": 1.3, "color": "#222222"},
                    "encoding": {
                      "x": {"field": "group", "type": "nominal", "scale": {"domain": ["yf","sf","gf","mf","sm","mm"], "paddingInner": 0.38, "paddingOuter": 0.19},
                            "axis": {"title": null, "labelAngle": -45, "labelFontSize": 22, "labelPadding": 2, "tickSize": 6}},
                      "y": {"field": "lo", "type": "quantitative", "scale": {"domain": [0, 6, 90, 125], "range": [155, 55, 42.4, 0], "nice": false, "zero": false},
                            "axis": {"values": [0, 2, 4, 6, 90, 100], "labelExpr": "datum.value == 90 ? '' : datum.label", "format": "d", "title": null, "zindex": 0}},
                      "y2": {"field": "hi"}
                    }
                  },
                  {
                    "data": {"name": "boneErr"},
                    "transform": [{"filter": "datum.element === 'Calcium'"}],
                    "mark": {"type": "rule", "strokeWidth": 1.3, "color": "#222222"},
                    "encoding": {
                      "x": {"field": "group", "type": "nominal", "scale": {"domain": ["yf","sf","gf","mf","sm","mm"], "paddingInner": 0.38, "paddingOuter": 0.19},
                            "axis": {"title": null, "labelAngle": -45, "labelFontSize": 22, "labelPadding": 2, "tickSize": 6}},
                      "y": {"field": "mean", "type": "quantitative", "scale": {"domain": [0, 6, 90, 125], "range": [155, 55, 42.4, 0], "nice": false, "zero": false},
                            "axis": {"values": [0, 2, 4, 6, 90, 100], "labelExpr": "datum.value == 90 ? '' : datum.label", "format": "d", "title": null, "zindex": 0}},
                      "y2": {"field": "hi"}
                    }
                  },
                  {
                    "data": {"name": "boneErr"},
                    "transform": [{"filter": "datum.element === 'Calcium'"}],
                    "mark": {"type": "tick", "size": 8, "thickness": 1.3, "color": "#222222", "orient": "horizontal"},
                    "encoding": {
                      "x": {"field": "group", "type": "nominal", "scale": {"domain": ["yf","sf","gf","mf","sm","mm"], "paddingInner": 0.38, "paddingOuter": 0.19},
                            "axis": {"title": null, "labelAngle": -45, "labelFontSize": 22, "labelPadding": 2, "tickSize": 6}},
                      "y": {"field": "hi", "type": "quantitative", "scale": {"domain": [0, 6, 90, 125], "range": [155, 55, 42.4, 0], "nice": false, "zero": false},
                            "axis": {"values": [0, 2, 4, 6, 90, 100], "labelExpr": "datum.value == 90 ? '' : datum.label", "format": "d", "title": null, "zindex": 0}}
                    }
                  },
                  {
                    "data": {"values": [{}]},
                    "mark": {"type": "rect", "color": "white", "xOffset": -4},
                    "encoding": {
                      "y": {"datum": 6.08, "type": "quantitative", "scale": {"domain": [0, 6, 90, 125], "range": [155, 55, 42.4, 0], "nice": false, "zero": false},
                            "axis": {"values": [0, 2, 4, 6, 90, 100], "labelExpr": "datum.value == 90 ? '' : datum.label", "format": "d", "title": null, "zindex": 0}},
                      "y2": {"datum": 86}
                    }
                  },
                  {
                    "data": {"values": [{}]},
                    "mark": {"type": "rule", "strokeWidth": 1.5, "color": "black"},
                    "encoding": {
                      "y": {"datum": 125, "type": "quantitative", "scale": {"domain": [0, 6, 90, 125], "range": [155, 55, 42.4, 0], "nice": false, "zero": false},
                            "axis": {"values": [0, 2, 4, 6, 90, 100], "labelExpr": "datum.value == 90 ? '' : datum.label", "format": "d", "title": null, "zindex": 0}}
                    }
                  },
                  {
                    "data": {"name": "letters"},
                    "transform": [{"filter": "datum.element === 'Calcium'"}],
                    "mark": {"type": "text", "fontSize": 22, "baseline": "alphabetic", "color": "black"},
                    "encoding": {
                      "x": {"field": "group", "type": "nominal", "scale": {"domain": ["yf","sf","gf","mf","sm","mm"], "paddingInner": 0.38, "paddingOuter": 0.19},
                            "axis": {"title": null, "labelAngle": -45, "labelFontSize": 22, "labelPadding": 2, "tickSize": 6}},
                      "y": {"datum": 106.5, "type": "quantitative", "scale": {"domain": [0, 6, 90, 125], "range": [155, 55, 42.4, 0], "nice": false, "zero": false},
                            "axis": {"values": [0, 2, 4, 6, 90, 100], "labelExpr": "datum.value == 90 ? '' : datum.label", "format": "d", "title": null, "zindex": 0}},
                      "text": {"field": "letter"}
                    }
                  }
                ]
              },
              {
                "layer": [
                  {
                    "data": {"name": "ratio"},
                    "transform": [{"filter": "datum.element === 'Calcium'"}],
                    "mark": {"type": "line", "color": "black", "strokeWidth": 2},
                    "encoding": {
                      "x": {"field": "group", "type": "nominal", "scale": {"domain": ["yf","sf","gf","mf","sm","mm"], "paddingInner": 0.38, "paddingOuter": 0.19},
                            "axis": {"title": null, "labelAngle": -45, "labelFontSize": 22, "labelPadding": 2, "tickSize": 6}},
                      "y": {"field": "ratio", "type": "quantitative", "scale": {"domain": [0, 0.0603], "nice": false, "zero": false},
                            "axis": {"orient": "right", "values": [0, 0.02, 0.04, 0.06], "format": ".2f", "title": "Soft tissue/bone ratio", "titleFontSize": 22, "titleX": 51, "titleY": 71, "titleBaseline": "bottom", "titleAlign": "center", "titleAngle": 90, "zindex": 1, "labelPadding": 0}},
                      "detail": {"field": "sex"}
                    }
                  },
                  {
                    "data": {"name": "ratio"},
                    "transform": [{"filter": "datum.element === 'Calcium'"}],
                    "mark": {"type": "point", "filled": true, "color": "black", "size": 75, "opacity": 1},
                    "encoding": {
                      "x": {"field": "group", "type": "nominal", "scale": {"domain": ["yf","sf","gf","mf","sm","mm"], "paddingInner": 0.38, "paddingOuter": 0.19},
                            "axis": {"title": null, "labelAngle": -45, "labelFontSize": 22, "labelPadding": 2, "tickSize": 6}},
                      "y": {"field": "ratio", "type": "quantitative", "scale": {"domain": [0, 0.0603], "nice": false, "zero": false},
                            "axis": {"orient": "right", "values": [0, 0.02, 0.04, 0.06], "format": ".2f", "title": "Soft tissue/bone ratio", "titleFontSize": 22, "titleX": 51, "titleY": 71, "titleBaseline": "bottom", "titleAlign": "center", "titleAngle": 90, "zindex": 1, "labelPadding": 0}}
                    }
                  }
                ]
              }
            ]
          }]
        }
      ]
    }
  ]
}
